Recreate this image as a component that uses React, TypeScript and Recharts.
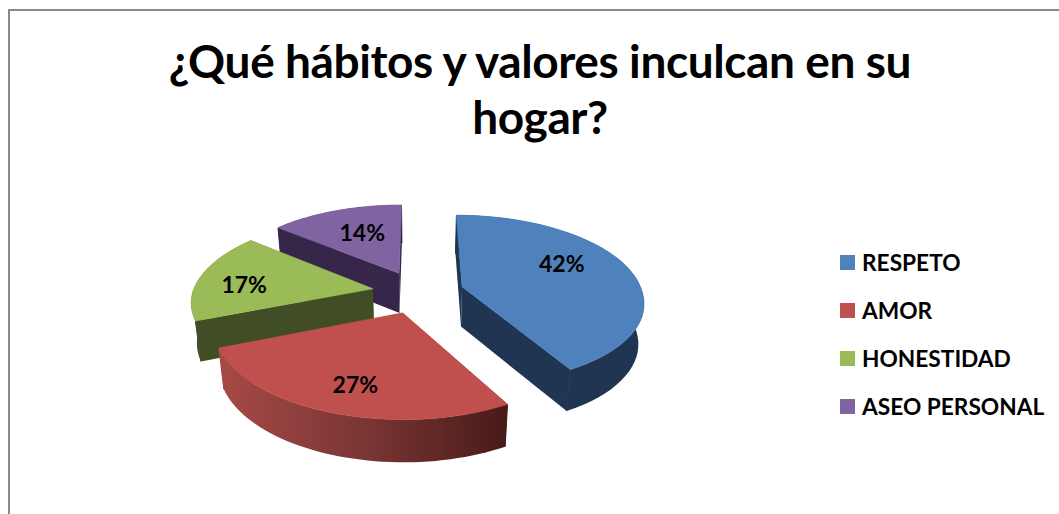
import { PieChart, Pie, Legend } from "recharts";

const categories = ["RESPETO", "AMOR", "HONESTIDAD", "ASEO PERSONAL"];
const shares = [42, 27, 17, 14];
const titleLines = ["¿Qué hábitos y valores inculcan en su", "hogar?"];

const topColors = ["#4F81BD", "#C0504D", "#9BBB59", "#8064A2"];
const wallColors = ["#1F3552", "url(#redWall)", "#414D24", "#35264A"];
// how far along the slice radius each % label sits, and a small nudge
const labelRadius = [0.595, 0.745, 0.745, 0.633];
const labelShiftX = [0, 5, 0, 5];
const labelShiftY = [-12, 0, 5, 0];

// painted back to front, going counter clockwise, so the front slices cover the back ones
const pieData = categories
  .map((name, i) => ({ name, value: shares[i], fill: topColors[i] }))
  .reverse();

const FONT = "Lato, sans-serif";
const CX = 418;
const CY = 292;
const RADIUS = 180;
const EXPLODE = 46;
const TILT = 0.465;
const FOCAL = 1200;
const DEPTH = 40;

// clock angle of the slice (0 = top, clockwise)
const clock = (deg: number) => ((90 - deg) * Math.PI) / 180;

// 3D pie plane -> screen, lower = bottom face of the disc
const project = (x: number, z: number, lower = false) => {
  const f = FOCAL / (FOCAL + z);
  // the near half of the original leans a little to the right
  const sx = x * f + Math.max(0, -z) * 0.02;
  const sy = -z * TILT * f;
  if (!lower) return [CX + sx, CY + sy];
  return [CX + sx * 0.975, CY + sy + DEPTH + (f - 1) * 12];
};

const pt = (p: number[]) => `${p[0].toFixed(1)},${p[1].toFixed(1)}`;

const Slice = (props: any) => {
  const { startAngle, endAngle, name, fill } = props;
  const i = categories.indexOf(name);
  const a0 = clock(startAngle);
  const a1 = clock(endAngle);
  const mid = (a0 + a1) / 2;
  const ax = EXPLODE * Math.sin(mid);
  const az = EXPLODE * Math.cos(mid);

  const rimTop: number[][] = [];
  const rimLow: number[][] = [];
  const steps = 48;
  for (let s = 0; s <= steps; s++) {
    const t = a0 + ((a1 - a0) * s) / steps;
    const x = ax + RADIUS * Math.sin(t);
    const z = az + RADIUS * Math.cos(t);
    rimTop.push(project(x, z));
    rimLow.push(project(x, z, true));
  }
  const apex = project(ax, az);
  const apexLow = project(ax, az, true);
  const wall = wallColors[i];

  return (
    <g>
      <defs>
        <linearGradient id="redWall" gradientUnits="userSpaceOnUse" x1="218" x2="510" y1="0" y2="0">
          <stop offset="0" stopColor="#A64A47" />
          <stop offset="0.5" stopColor="#7A3634" />
          <stop offset="1" stopColor="#471A18" />
        </linearGradient>
      </defs>
      <polygon
        points={[apex, rimTop[0], rimLow[0], apexLow].map(pt).join(" ")}
        fill={wall}
      />
      <polygon
        points={[apex, rimTop[steps], rimLow[steps], apexLow].map(pt).join(" ")}
        fill={wall}
      />
      <polygon
        points={[...rimTop, ...[...rimLow].reverse()].map(pt).join(" ")}
        fill={wall}
      />
      {/* hide the hairline where the curved wall meets the straight walls */}
      {[0, steps].map((k) => (
        <path
          key={k}
          d={`M${pt(rimTop[k])}L${pt(rimLow[k])}`}
          stroke={wall}
          strokeWidth={1}
          fill="none"
        />
      ))}
      <polygon
        points={[apex, ...rimTop].map(pt).join(" ")}
        fill={fill}
        stroke={fill}
        strokeWidth={0.7}
      />
    </g>
  );
};

const sliceLabel = (props: any) => {
  const { midAngle, name, value } = props;
  const i = categories.indexOf(name);
  const mid = clock(midAngle);
  const r = RADIUS * labelRadius[i];
  const p = project(
    (EXPLODE + r) * Math.sin(mid),
    (EXPLODE + r) * Math.cos(mid),
  );
  return (
    <text
      x={p[0] + labelShiftX[i]}
      y={p[1] + labelShiftY[i]}
      textAnchor="middle"
      dominantBaseline="central"
      fontFamily={FONT}
      fontWeight={700}
      fontSize={23}
      fill="#000"
    >
      {`${value}%`}
    </text>
  );
};

const LegendList = () => (
  <div>
    {categories.map((name, i) => (
      <div
        key={name}
        style={{
          display: "flex",
          alignItems: "center",
          height: 48,
          fontFamily: FONT,
          fontWeight: 700,
          fontSize: 22.7,
          color: "#000",
          whiteSpace: "nowrap",
        }}
      >
        <span
          style={{
            width: 15,
            height: 15,
            marginRight: 7,
            background: topColors[i],
          }}
        />
        {name}
      </div>
    ))}
  </div>
);

export default function App() {
  return (
    <div
      style={{
        position: "fixed",
        left: 0,
        top: 0,
        width: 1059,
        height: 514,
        overflow: "hidden",
        background: "#fff",
      }}
    >
      <div
        style={{
          position: "absolute",
          left: 8,
          top: 9,
          width: 1100,
          height: 600,
          border: "2px solid #8A8A8A",
        }}
      />
      <div
        style={{
          position: "absolute",
          left: 0,
          top: 33,
          width: 1080,
          textAlign: "center",
          fontFamily: FONT,
          fontWeight: 700,
          fontSize: 46,
          letterSpacing: -0.4,
          lineHeight: "56px",
          color: "#000",
        }}
      >
        {titleLines.map((line) => (
          <div key={line}>{line}</div>
        ))}
      </div>
      <div style={{ position: "absolute", left: 0, top: 0 }}>
        <PieChart
          width={1059}
          height={514}
          margin={{ top: 0, right: 0, bottom: 0, left: 0 }}
        >
          <Pie
            data={pieData}
            dataKey="value"
            nameKey="name"
            cx={CX}
            cy={CY}
            outerRadius={RADIUS}
            startAngle={90}
            endAngle={450}
            paddingAngle={0}
            stroke="none"
            shape={Slice}
            label={sliceLabel}
            labelLine={false}
            isAnimationActive={false}
          />
          <Legend
            content={LegendList}
            wrapperStyle={{ position: "absolute", left: 840, top: 238, width: 215, bottom: "auto" }}
          />
        </PieChart>
      </div>
    </div>
  );
}
